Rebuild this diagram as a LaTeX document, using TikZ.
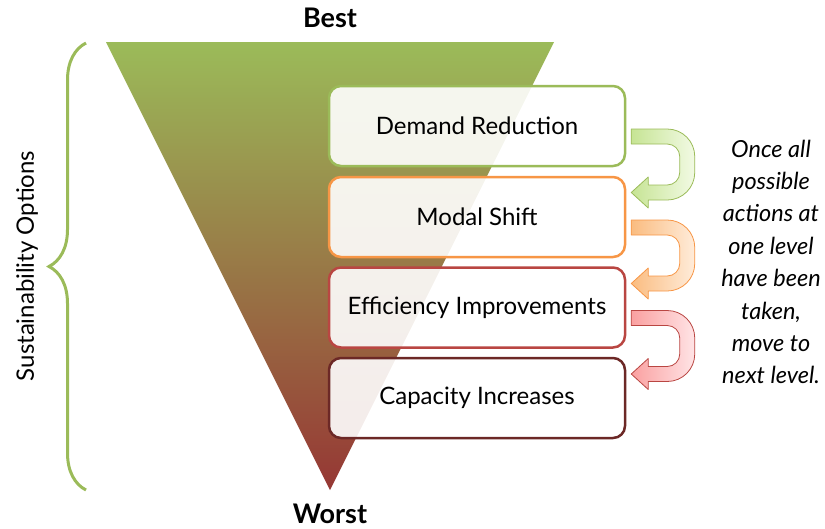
\documentclass[tikz,border=0pt]{standalone}
\usepackage{fontspec}
\setmainfont{Lato}
\usetikzlibrary{decorations.pathreplacing}

\definecolor{leafgreen}{RGB}{155,187,89}
\definecolor{rustred}{RGB}{150,55,52}
\definecolor{shiftorange}{RGB}{247,150,70}
\definecolor{gainred}{RGB}{185,70,66}
\definecolor{darkred}{RGB}{108,40,38}
\definecolor{greenarrow}{RGB}{198,228,148}
\definecolor{greenlight}{RGB}{242,250,228}
\definecolor{orangearrow}{RGB}{250,188,128}
\definecolor{orangelight}{RGB}{255,236,218}
\definecolor{redarrow}{RGB}{250,160,160}
\definecolor{redlight}{RGB}{255,228,230}

\begin{document}
\begin{tikzpicture}[x=1pt,y=-1pt,
		levelbox/.style={draw,line width=2.5pt,rounded corners=12pt,fill=white,fill opacity=0.9,text opacity=1,
			minimum width=296pt,minimum height=80pt,inner sep=0pt,font=\fontsize{24}{28}\selectfont},
		heading/.style={font=\fontsize{27}{30}\selectfont\bfseries}]
		\useasboundingbox (0,0) rectangle (825,528);
		
		% Best to worst triangle
		\shade[top color=leafgreen,bottom color=rustred] (106,42) -- (554,42) -- (330,490) -- cycle;
		\node[heading] (Best) at (330,18) {Best};
		\node[heading] (Worst) at (330,514) {Worst};
		
		% Brace and its label
		\draw[leafgreen,line width=3pt,decorate,decoration={brace,amplitude=37pt}] (86,490) -- (86,43);
		\node[rotate=90,font=\fontsize{24}{28}\selectfont] (Options) at (27,266) {Sustainability Options};
		
		% The four levels
		\node[levelbox,draw=leafgreen] (Demand) at (477,126) {Demand Reduction};
		\node[levelbox,draw=shiftorange] (Modal) at (477,217) {Modal Shift};
		\node[levelbox,draw=gainred] (Efficiency) at (477,307.5) {Efficiency Improvements};
		\node[levelbox,draw=darkred] (Capacity) at (477,398) {Capacity Increases};
		
		% U-turn arrows from one level down to the next
		\foreach \from/\dark/\light/\edge in {Demand/greenarrow/greenlight/leafgreen,
			Modal/orangearrow/orangelight/shiftorange,Efficiency/redarrow/redlight/gainred}
		{
			\shadedraw[shift={(\from.east)},left color=\dark,right color=\light,draw=\edge,line width=0.8pt,line join=round]
			(5,3) -- (41,3) arc[start angle=-90,end angle=0,radius=27.5] -- (68.5,46.5)
			arc[start angle=0,end angle=90,radius=27.5] -- (22,74) -- (22,82) -- (5,66.5) -- (22,51) -- (22,59) -- (41,59)
			arc[start angle=90,end angle=0,radius=12.5] -- (53.5,30.5)
			arc[start angle=0,end angle=-90,radius=12.5] -- (5,18) -- cycle;
		}
		
		\node[align=center,font=\fontsize{23.5}{32.4}\selectfont\itshape] (Note) at (771,262)
		{Once all\\possible\\actions at\\one level\\have been\\taken,\\move to\\next level.};
		
		\end{tikzpicture}
\end{document}
